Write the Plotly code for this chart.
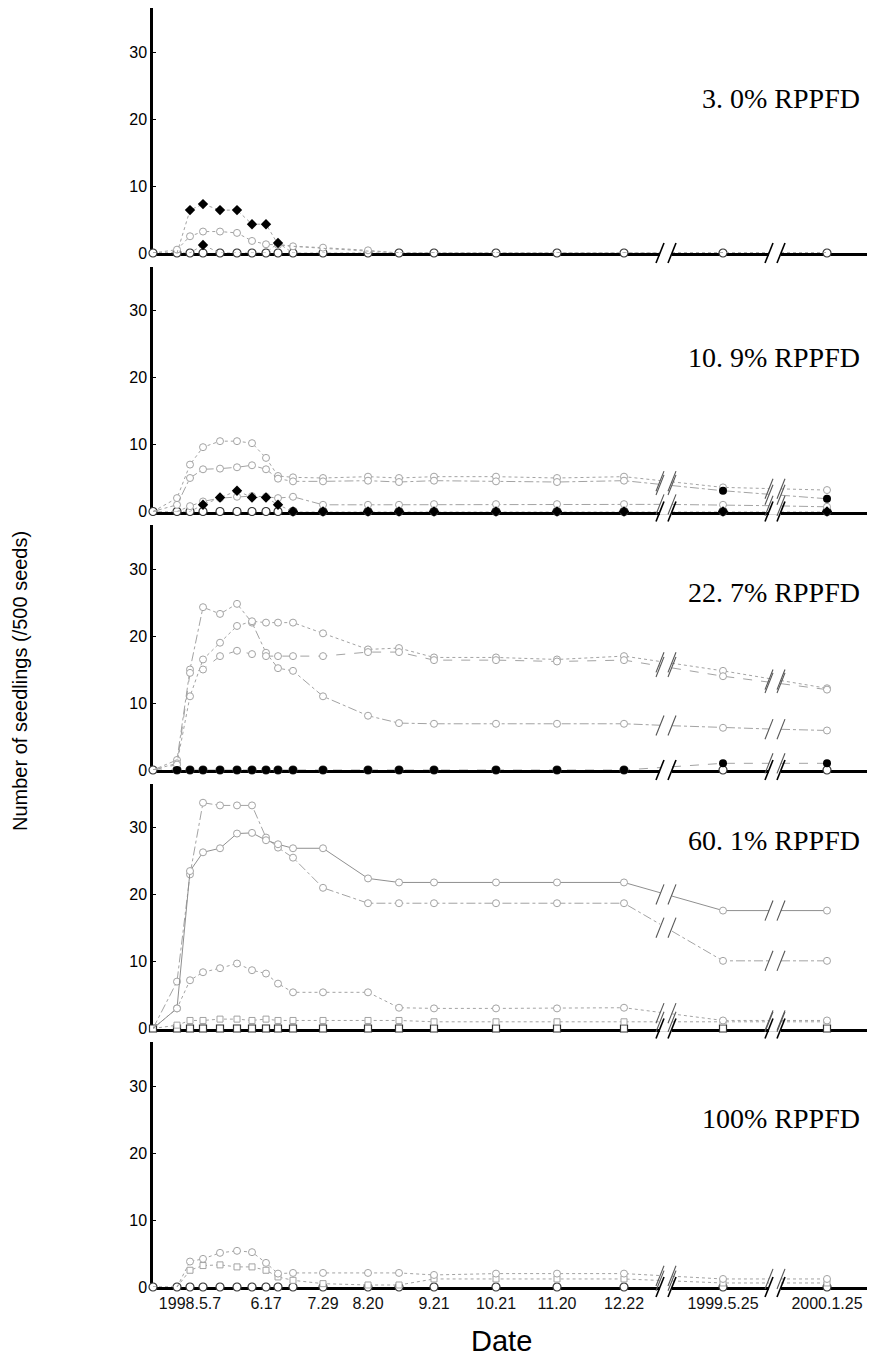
import numpy as np
import plotly.graph_objects as go
from plotly.subplots import make_subplots

# ---------------- data ----------------
# sampling positions along the (broken, non-linear) date axis
x_pos = [0, 24, 37, 50, 67, 84, 99, 113, 125, 140, 170, 215, 246, 281, 343, 404, 471, 570, 674]
tick_idx = [2, 7, 10, 11, 13, 14, 15, 16, 17, 18]
tick_labels = ["1998.5.7", "6.17", "7.29", "8.20", "9.21", "10.21", "11.20", "12.22",
               "1999.5.25", "2000.1.25"]
panel_labels = ["3. 0% RPPFD", "10. 9% RPPFD", "22. 7% RPPFD", "60. 1% RPPFD", "100% RPPFD"]

zeros = [0] * 19

# 3.0% RPPFD
p1_faint = [0, 0.5, 2.5, 3.2, 3.2, 3.0, 1.8, 1.3, 1.2, 1.0, 0.8, 0.4, 0, 0, 0, 0, 0, 0, 0]
p1_dia_a = [0, 0, 6.4, 7.3, 6.4, 6.4, 4.3, 4.3, 1.3, 1.0, 0.7, 0.3, 0, 0, 0, 0, 0, 0, 0]
p1_dia_b = [0, 0, 0, 1.2, 0, 0, 0, 0, 1.5, 0, 0, 0, 0, 0, 0, 0, 0, 0, 0]

# 10.9% RPPFD
p2_a = [0, 2.0, 7.0, 9.6, 10.5, 10.5, 10.2, 8.0, 5.3, 5.1, 5.0, 5.2, 5.0, 5.2, 5.2, 5.0, 5.2, 3.6, 3.2]
p2_b = [0, 1.0, 5.0, 6.3, 6.4, 6.6, 6.9, 6.3, 4.9, 4.5, 4.5, 4.6, 4.4, 4.6, 4.5, 4.4, 4.6, 3.1, 1.9]
p2_c = [0, 0, 0.8, 1.5, 2.0, 2.2, 2.3, 2.2, 2.0, 2.2, 1.0, 1.0, 1.0, 1.1, 1.1, 1.1, 1.1, 1.0, 0.7]
p2_dia = [0, 0, 0, 1.0, 2.1, 3.1, 2.1, 2.1, 1.0, 0, 0, 0, 0, 0, 0, 0, 0, 0, 0]

# 22.7% RPPFD
p3_a = [0, 1.5, 15.0, 24.3, 23.3, 24.8, 22.0, 17.5, 15.2, 14.8, 11.0, 8.1, 7.0, 6.9, 6.9, 6.9, 6.9, 6.3, 5.9]
p3_b = [0, 1.0, 11.0, 16.5, 19.0, 21.5, 22.2, 22.0, 22.0, 22.0, 20.4, 18.0, 18.2, 16.8, 16.8, 16.5, 17.0, 14.8, 12.2]
p3_c = [0, 0.8, 14.5, 15.0, 17.0, 17.8, 17.3, 17.0, 17.0, 17.0, 17.0, 17.6, 17.6, 16.4, 16.4, 16.2, 16.4, 14.0, 12.0]
p3_dot = [0, 0, 0, 0, 0, 0, 0, 0, 0, 0, 0, 0, 0, 0, 0, 0, 0, 1.0, 1.0]

# 60.1% RPPFD
p4_a = [0, 7.0, 23.0, 33.7, 33.3, 33.3, 33.3, 28.5, 27.0, 25.5, 21.0, 18.7, 18.7, 18.7, 18.7, 18.7, 18.7, 10.1, 10.1]
p4_b = [0, 3.0, 23.5, 26.3, 26.9, 29.1, 29.2, 28.1, 27.5, 26.9, 26.9, 22.4, 21.8, 21.8, 21.8, 21.8, 21.8, 17.6, 17.6]
p4_c = [0, 3.0, 7.2, 8.4, 9.0, 9.7, 8.7, 8.2, 6.7, 5.4, 5.4, 5.4, 3.1, 3.0, 3.0, 3.0, 3.1, 1.2, 1.2]
p4_d = [0, 0.5, 1.2, 1.2, 1.4, 1.4, 1.2, 1.4, 1.2, 1.2, 1.2, 1.2, 1.2, 1.0, 1.0, 1.0, 1.0, 1.0, 1.0]

# 100% RPPFD
p5_a = [0, 0, 3.8, 4.2, 5.1, 5.4, 5.2, 3.6, 2.0, 2.1, 2.1, 2.1, 2.1, 1.8, 2.0, 2.0, 2.0, 1.2, 1.2]
p5_b = [0, 0, 2.5, 3.2, 3.3, 3.0, 3.0, 2.5, 1.5, 1.0, 0.5, 0.3, 0.3, 1.2, 1.2, 1.2, 1.2, 0.6, 0.6]

# (values, style, marker mask)
panels = [
    [(zeros, "base_circle", "all"), (p1_faint, "gray_dot", "nonzero"),
     (p1_dia_a, "black_diamond", "ge2"), (p1_dia_b, "black_diamond", "nonzero")],
    [(zeros, "base_circle", "all"), (p2_c, "gray_dashdot", "nonzero"),
     (p2_a, "gray_dot", "nonzero"), (p2_b, "gray_dashdot", "but_last2"),
     (p2_b, "black_circle_nl", "last2"), (p2_dia, "black_diamond", "from3")],
    [(zeros, "base_circle", "all"), (p3_a, "gray_dashdot", "nonzero"),
     (p3_b, "gray_dot", "nonzero"), (p3_c, "gray_dash", "nonzero"),
     (p3_dot, "black_circle", "from1")],
    [(zeros, "base_square", "all"), (p4_d, "gray_sq", "nonzero"),
     (p4_c, "gray_dot", "nonzero"), (p4_a, "gray_dashdot", "nonzero"),
     (p4_b, "gray_solid", "nonzero")],
    [(zeros, "base_circle", "all"), (p5_b, "gray_sq", "nonzero"),
     (p5_a, "gray_dot", "nonzero")],
]
label_y = [23.0, 23.0, 26.5, 28.0, 25.2]

# ---------------- styling / layout ----------------
GRAY = "#a3a3a3"
DARK = "#333333"
BREAKS = [513, 622]
GAP = 6
Y_MAX = 36.57
W, H = 875, 1363
ML, MR, MT, MB = 145, 12, 0, 84
PLOT_W = W - ML - MR          # 718 -> 1 x unit = 1 px
PLOT_H = H - MT - MB          # 1279
PANEL_H = 245
SPACING = (PLOT_H - 5 * PANEL_H) / 4 / PLOT_H

styles = {
    "base_circle": dict(line=None, marker=dict(symbol="circle", size=8, color="white",
                                               line=dict(color=DARK, width=1.2))),
    "base_square": dict(line=None, marker=dict(symbol="square", size=7, color="white",
                                               line=dict(color=DARK, width=1.2))),
    "gray_dot": dict(line=dict(color=GRAY, width=1, dash="dot"),
                     marker=dict(symbol="circle", size=7, color="white", line=dict(color=GRAY, width=1))),
    "gray_dashdot": dict(line=dict(color=GRAY, width=1, dash="dashdot"),
                         marker=dict(symbol="circle", size=7, color="white", line=dict(color=GRAY, width=1))),
    "gray_dash": dict(line=dict(color=GRAY, width=1, dash="dash"),
                      marker=dict(symbol="circle", size=7, color="white", line=dict(color=GRAY, width=1))),
    "gray_solid": dict(line=dict(color="#8f8f8f", width=1),
                       marker=dict(symbol="circle", size=7, color="white", line=dict(color=GRAY, width=1))),
    "gray_sq": dict(line=dict(color=GRAY, width=1, dash="dot"),
                    marker=dict(symbol="square", size=6, color="white", line=dict(color=GRAY, width=1))),
    "black_diamond": dict(line=dict(color=GRAY, width=1, dash="dot"),
                          marker=dict(symbol="diamond", size=8, color="black")),
    "black_circle": dict(line=dict(color=GRAY, width=1, dash="dash"),
                         marker=dict(symbol="circle", size=8, color="black")),
    "black_circle_nl": dict(line=None, marker=dict(symbol="circle", size=8, color="black")),
}


def mask_ok(name, i, v):
    if name == "all":
        return True
    if name == "nonzero":
        return v > 0
    if name == "ge2":
        return v >= 2
    if name == "from3":
        return i >= 3
    if name == "from1":
        return i >= 1
    if name == "but_last2":
        return v > 0 and i < 17
    if name == "last2":
        return i >= 17
    return True


def gapped(xs, ys):
    ox, oy = [], []
    for i in range(len(xs)):
        ox.append(xs[i]); oy.append(ys[i])
        if i + 1 < len(xs):
            for b in BREAKS:
                if xs[i] < b < xs[i + 1]:
                    yl = float(np.interp(b - GAP, xs, ys))
                    yr = float(np.interp(b + GAP, xs, ys))
                    ox += [b - GAP, b, b + GAP]
                    oy += [yl, None, yr]
    return ox, oy


fig = make_subplots(rows=5, cols=1, shared_xaxes=True, vertical_spacing=SPACING)

for r, series in enumerate(panels, start=1):
    for vals, sty, msk in series:
        st = styles[sty]
        if st["line"] is not None and max(vals) > 0:
            gx, gy = gapped(x_pos, vals)
            fig.add_trace(go.Scatter(x=gx, y=gy, mode="lines", line=st["line"],
                                     connectgaps=False, hoverinfo="skip", cliponaxis=False,
                                     showlegend=False), row=r, col=1)
        my = [v if mask_ok(msk, i, v) else None for i, v in enumerate(vals)]
        fig.add_trace(go.Scatter(x=x_pos, y=my, mode="markers", marker=st["marker"],
                                 cliponaxis=False, showlegend=False), row=r, col=1)

for r in range(1, 6):
    fig.update_yaxes(range=[0, Y_MAX], tickvals=[0, 10, 20, 30], showline=True, linecolor="black",
                     linewidth=2.5, showgrid=False, zeroline=False, ticks="inside", ticklen=3,
                     tickcolor="black", layer="below traces",
                     tickfont=dict(family="Arial, Liberation Sans", size=16, color="black"),
                     row=r, col=1)
    fig.update_xaxes(range=[0, PLOT_W], showline=True, linecolor="black", linewidth=2.5,
                     showgrid=False, zeroline=False, layer="below traces",
                     tickvals=[x_pos[i] for i in tick_idx], ticktext=tick_labels, ticks="",
                     showticklabels=(r == 5),
                     tickfont=dict(family="Arial, Liberation Sans", size=16, color="#111"),
                     row=r, col=1)

# ---------------- axis-break marks ----------------
shapes = []
for r, series in enumerate(panels, start=1):
    yname = "yaxis" if r == 1 else f"yaxis{r}"
    d0, d1 = fig.layout[yname].domain

    def to_paper(xv, yv, d0=d0, d1=d1):
        return xv / PLOT_W, d0 + (yv / Y_MAX) * (d1 - d0)

    for b in BREAKS:
        lv = [0.0]
        for vals, sty, msk in series:
            if styles[sty]["line"] is None:
                continue
            yb = float(np.interp(b, x_pos, vals))
            if yb > 0.8:
                lv.append(yb)
        for k, yb in enumerate(lv):
            col = "black" if k == 0 else "#555"
            w = 1.6 if k == 0 else 1.1
            if k == 0:
                x0, y0 = to_paper(b - GAP, -0.5)
                x1, y1 = to_paper(b + GAP, 0.5)
                shapes.append(dict(type="rect", xref="paper", yref="paper", x0=x0, y0=y0, x1=x1, y1=y1,
                                   fillcolor="white", line=dict(width=0), layer="above"))
            for c in (b - GAP, b + GAP):
                xa, ya = to_paper(c - 4, yb - 1.5)
                xb, yb2 = to_paper(c + 4, yb + 1.5)
                shapes.append(dict(type="line", xref="paper", yref="paper", x0=xa, y0=ya, x1=xb, y1=yb2,
                                   line=dict(color=col, width=w), layer="above"))

annotations = []
for r in range(1, 6):
    annotations.append(dict(text=panel_labels[r - 1], x=709, y=label_y[r - 1],
                            xref="x" if r == 1 else f"x{r}", yref="y" if r == 1 else f"y{r}",
                            xanchor="right", yanchor="middle", showarrow=False,
                            font=dict(family="Liberation Serif, DejaVu Serif", size=28, color="black")))
annotations.append(dict(text="Date", x=(493 - ML) / PLOT_W, y=(PLOT_H - 1333) / PLOT_H,
                        xref="paper", yref="paper",
                        xanchor="center", yanchor="middle", showarrow=False,
                        font=dict(family="Arial, Liberation Sans", size=29, color="black")))
annotations.append(dict(text="Number of seedlings (/500 seeds)", x=(12 - ML) / PLOT_W,
                        y=(PLOT_H - 673) / PLOT_H,
                        xref="paper", yref="paper", textangle=-90, xanchor="center", yanchor="middle",
                        showarrow=False, font=dict(family="Arial, Liberation Sans", size=20, color="black")))

fig.update_layout(width=W, height=H, margin=dict(l=ML, r=MR, t=MT, b=MB),
                  plot_bgcolor="white", paper_bgcolor="white", showlegend=False,
                  shapes=shapes, annotations=annotations)

fig.write_html("out.html")
